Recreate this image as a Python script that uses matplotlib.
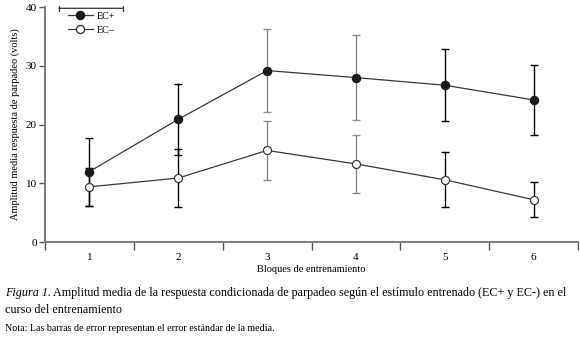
import matplotlib
matplotlib.use("Agg")
import matplotlib.pyplot as plt
import numpy as np
from matplotlib.lines import Line2D

# Data
blocks = [1, 2, 3, 4, 5, 6]
ec_plus_mean = [12.0, 20.9, 29.2, 28.0, 26.7, 24.2]
ec_plus_se = [5.8, 6.0, 7.1, 7.3, 6.1, 6.0]
ec_minus_mean = [9.4, 10.9, 15.6, 13.3, 10.6, 7.2]
ec_minus_se = [3.2, 5.0, 5.0, 4.9, 4.7, 3.0]
yticks = [0, 10, 20, 30, 40]

plt.rcParams["font.family"] = ["Liberation Serif", "DejaVu Serif"]

fig = plt.figure(figsize=(5.8, 3.39), dpi=100)
ax = fig.add_axes([0.0776, 0.286, 0.919, 0.693])

line_col = "#3a3a3a"
grey = "#8a8a8a"
# error bars at blocks 3 and 4 are drawn lighter in the original
bar_cols = ["black", "black", grey, grey, "black", "black"]

for means, ses in [(ec_plus_mean, ec_plus_se), (ec_minus_mean, ec_minus_se)]:
    for x, m, s, c in zip(blocks, means, ses, bar_cols):
        ax.errorbar(x, m, yerr=s, fmt="none", ecolor=c, elinewidth=1.0,
                    capsize=3, capthick=1.0, zorder=2)

ax.plot(blocks, ec_plus_mean, color=line_col, lw=0.9, marker="o", ms=5.8,
        mfc="#1a1a1a", mec="#1a1a1a", zorder=3)
ax.plot(blocks, ec_minus_mean, color=line_col, lw=0.9, marker="o", ms=5.8,
        mfc="white", mec=line_col, mew=0.9, zorder=3)

ax.set_xlim(0.5, 6.5)
ax.set_ylim(0, 40)
ax.set_yticks(yticks)
ax.set_xticks(np.arange(0.5, 7.0, 1.0))
ax.set_xticklabels([])
ax.set_xticks(blocks, minor=True)
ax.set_xticklabels([str(b) for b in blocks], minor=True)
ax.tick_params(axis="x", which="major", direction="out", length=6,
               color="#555555", width=1)
ax.tick_params(axis="x", which="minor", length=0, labelsize=8, pad=8)
ax.tick_params(axis="y", direction="out", length=4, color="#555555",
               width=1, labelsize=8, pad=2)

for side in ("top", "right"):
    ax.spines[side].set_visible(False)
for side in ("left", "bottom"):
    ax.spines[side].set_color("#7a7a7a")
    ax.spines[side].set_linewidth(1.4)

ax.set_ylabel("Amplitud media respuesta de parpadeo (volts)", fontsize=7.5,
              labelpad=4)
ax.set_xlabel("Bloques de entrenamiento", fontsize=7.5, labelpad=2)

# small bar above the legend
ax.annotate("", xy=(0.026, 0.995), xytext=(0.146, 0.995),
            xycoords="axes fraction",
            arrowprops=dict(arrowstyle="|-|", color="#333333", lw=0.9,
                            mutation_scale=2, shrinkA=0, shrinkB=0))

handles = [
    Line2D([0], [0], color=line_col, lw=0.9, marker="o", ms=5.8,
           mfc="#1a1a1a", mec="#1a1a1a", label="EC+"),
    Line2D([0], [0], color=line_col, lw=0.9, marker="o", ms=5.8,
           mfc="white", mec=line_col, label="EC\u2013"),
]
ax.legend(handles=handles, loc="upper left", bbox_to_anchor=(0.043, 0.98),
          frameon=False, fontsize=7.2, handlelength=2.5, handletextpad=0.4,
          labelspacing=0.5, borderaxespad=0, borderpad=0)

fig.text(0.009, 0.128, "Figura 1.", fontsize=8.7, style="italic")
fig.text(0.091, 0.128,
         "Amplitud media de la respuesta condicionada de parpadeo seg\u00fan "
         "el est\u00edmulo entrenado (EC+ y EC-) en el", fontsize=8.7)
fig.text(0.009, 0.078, "curso del entrenamiento", fontsize=8.7)
fig.text(0.009, 0.025,
         "Nota: Las barras de error representan el error est\u00e1ndar de la media.",
         fontsize=7.2)

fig.savefig("out.png", dpi=100)
